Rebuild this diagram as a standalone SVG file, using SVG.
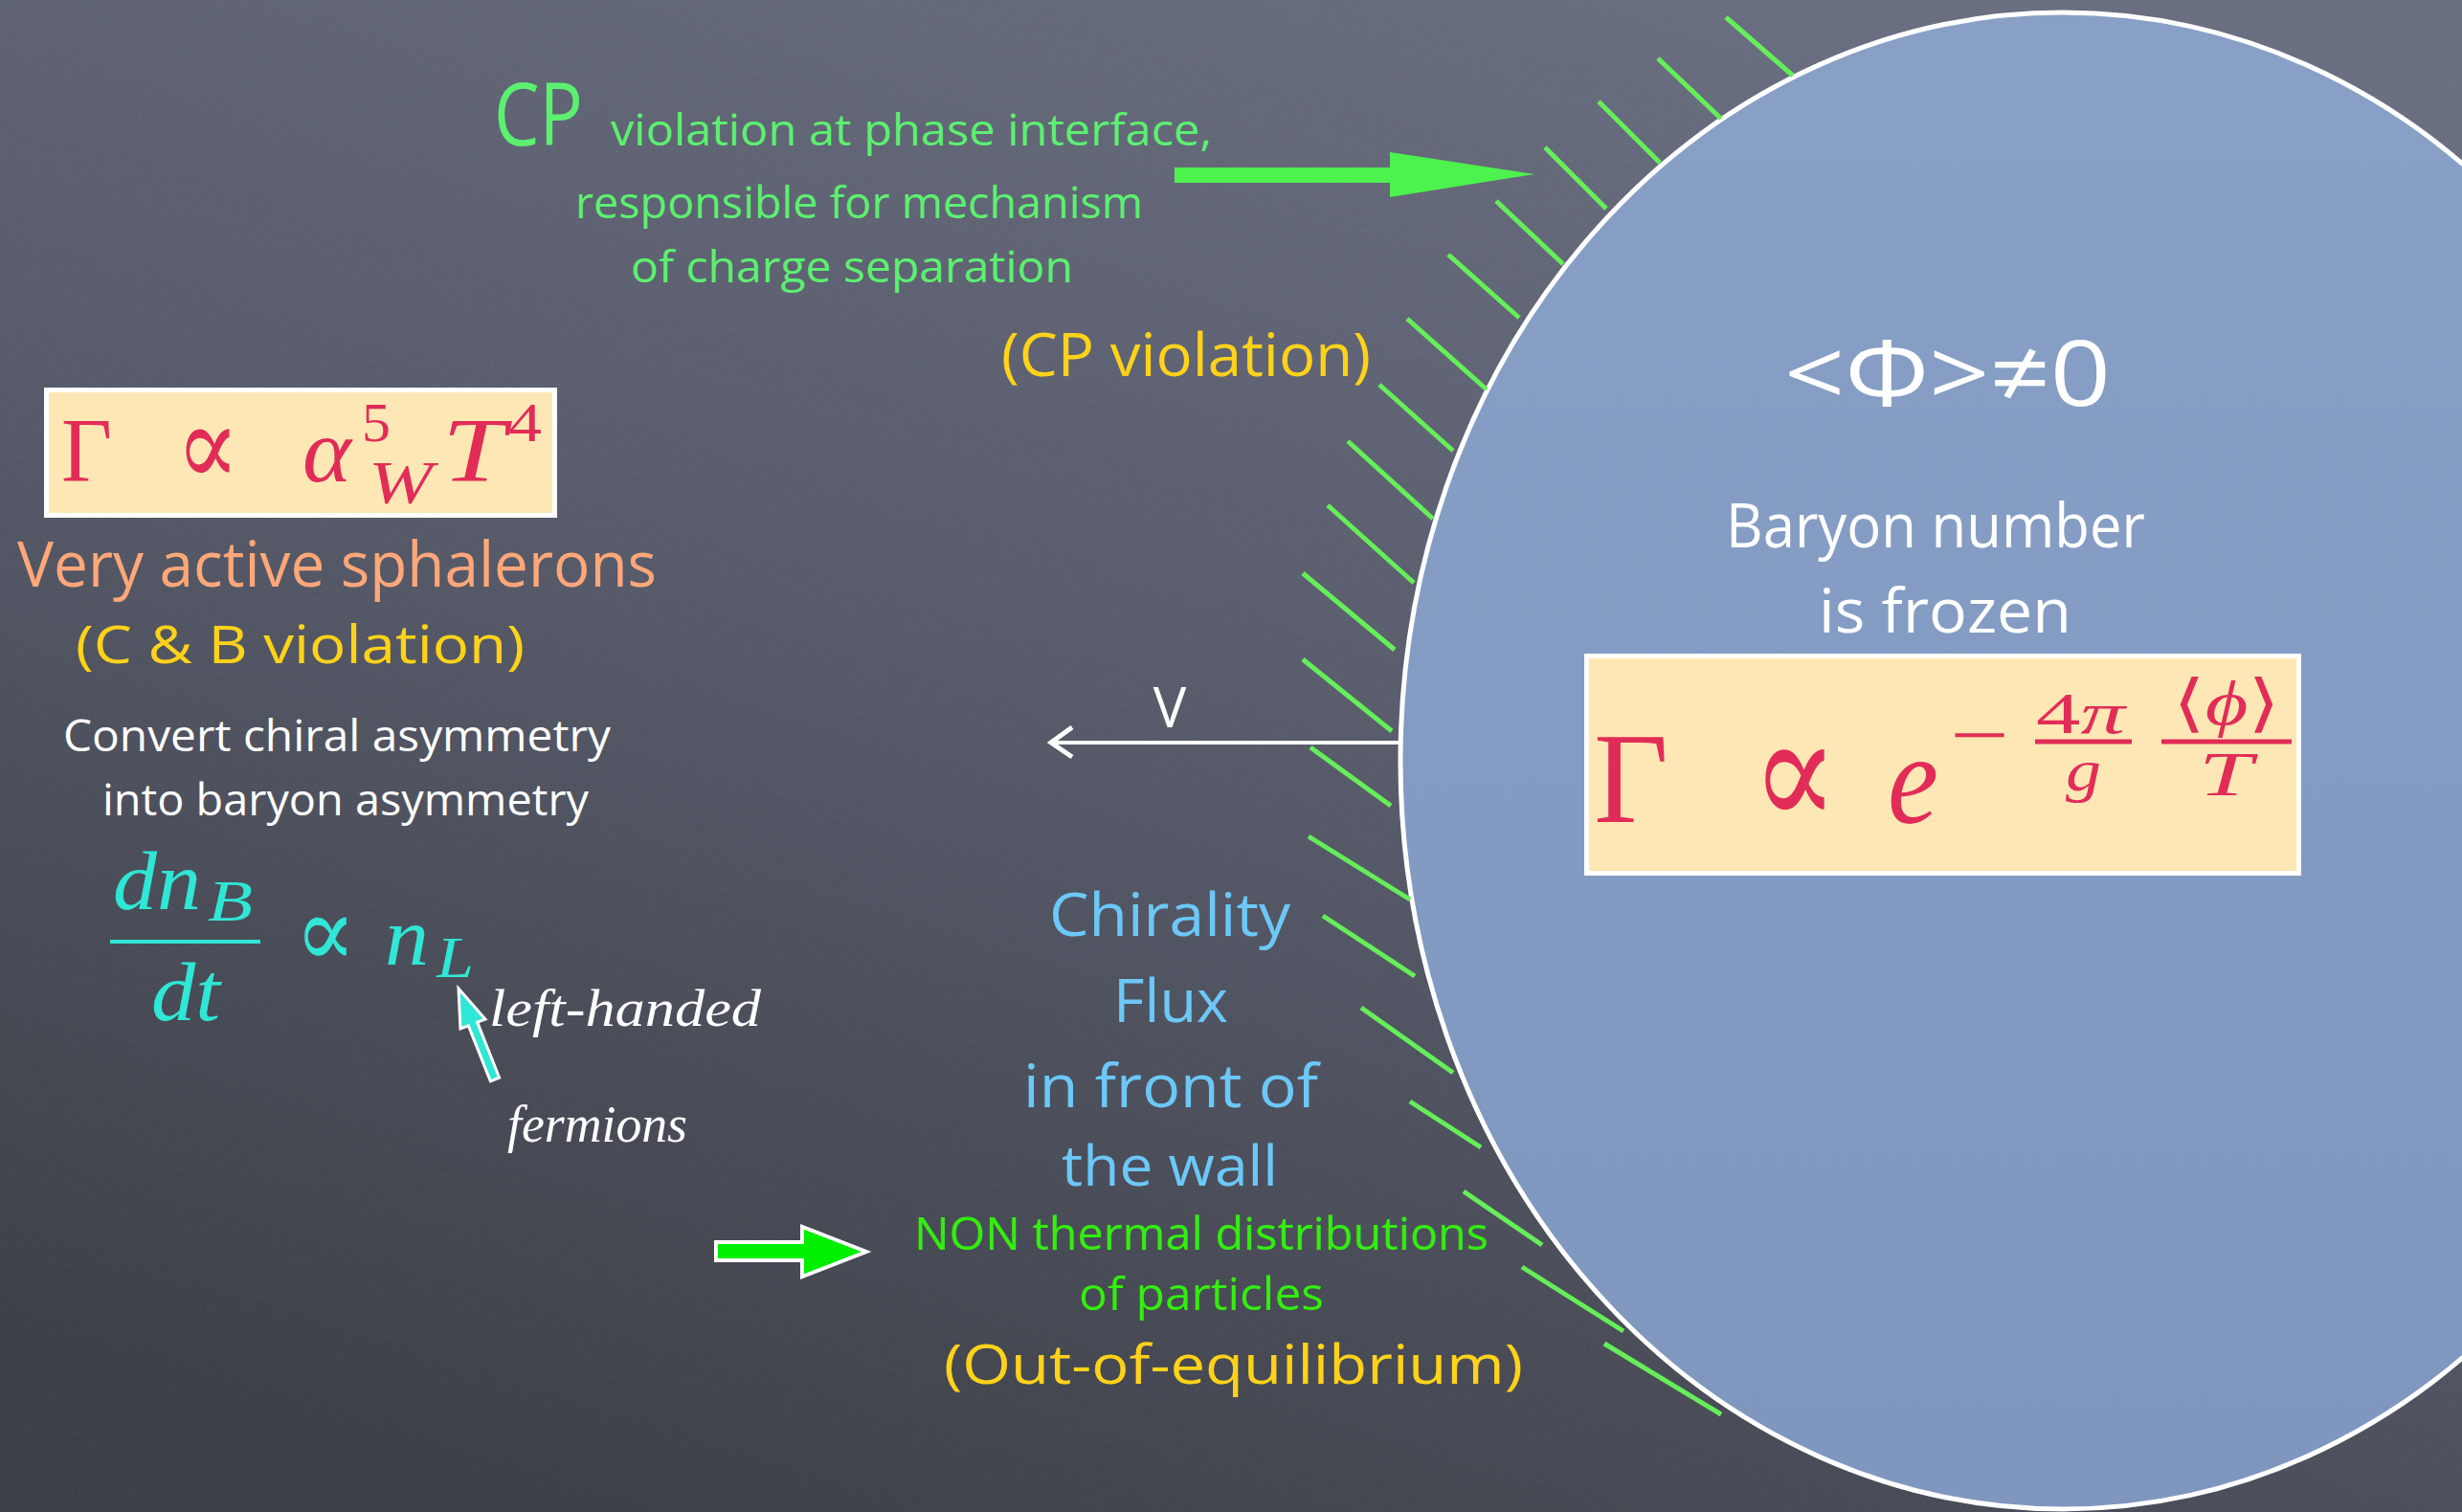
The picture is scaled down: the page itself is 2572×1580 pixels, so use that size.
<svg xmlns="http://www.w3.org/2000/svg" width="2572" height="1580" viewBox="0 0 2572 1580">
<defs>
<linearGradient id="board" x1="0.75" y1="0" x2="0.25" y2="1">
<stop offset="0" stop-color="#62677a"/>
<stop offset="0.45" stop-color="#515565"/>
<stop offset="1" stop-color="#34373f"/>
</linearGradient>
<linearGradient id="bubbleFill" x1="0" y1="0" x2="0" y2="1">
<stop offset="0" stop-color="#88a0c6"/>
<stop offset="1" stop-color="#7f97bf"/>
</linearGradient>
<filter id="chalk" x="0" y="0" width="100%" height="100%">
<feTurbulence type="fractalNoise" baseFrequency="0.9" numOctaves="2" seed="3" result="n"/>
<feColorMatrix in="n" type="matrix" values="0 0 0 0 1  0 0 0 0 1  0 0 0 0 1  0 0 0 0.10 0"/>
</filter>
<style>
.comic{font-family:"Open Sans","Liberation Sans",sans-serif;}
.math{font-family:"Liberation Serif","DejaVu Serif",serif;}
.it{font-style:italic;}
.green{fill:#5cf070;}
.yellow{fill:#ffd21a;}
.white{fill:#ffffff;}
.blue{fill:#6cc8f8;}
.red{fill:#e22c58;}
.cyan{fill:#30e6d6;}
.hatch line{stroke:#66ee5a;stroke-width:5;}
.box{fill:#fde7b4;stroke:#ffffff;stroke-width:5;}
</style>
</defs>

<rect x="0" y="0" width="2572" height="1580" fill="url(#board)"/>
<rect x="0" y="0" width="2572" height="1580" filter="url(#chalk)"/>

<g id="bubble">
<ellipse cx="2155" cy="795" rx="692" ry="782" fill="url(#bubbleFill)" stroke="#ffffff" stroke-width="5"/>
<text class="comic white" x="1864" y="424" font-size="95" textLength="341" lengthAdjust="spacingAndGlyphs">&lt;Φ&gt;≠0</text>
<text class="comic white" x="1803" y="572" font-size="64" textLength="438" lengthAdjust="spacingAndGlyphs">Baryon number</text>
<text class="comic white" x="1900" y="661" font-size="64" textLength="264" lengthAdjust="spacingAndGlyphs">is frozen</text>
</g>

<g id="wall-hatch" class="hatch">
<line x1="1803" y1="18" x2="1873" y2="79"/>
<line x1="1732" y1="61" x2="1798" y2="124"/>
<line x1="1670" y1="106" x2="1734" y2="170"/>
<line x1="1614" y1="154" x2="1678" y2="218"/>
<line x1="1563" y1="210" x2="1633" y2="276"/>
<line x1="1513" y1="266" x2="1587" y2="332"/>
<line x1="1470" y1="333" x2="1553" y2="407"/>
<line x1="1441" y1="402" x2="1518" y2="471"/>
<line x1="1408" y1="461" x2="1497" y2="542"/>
<line x1="1387" y1="528" x2="1477" y2="609"/>
<line x1="1361" y1="599" x2="1457" y2="679"/>
<line x1="1361" y1="689" x2="1454" y2="764"/>
<line x1="1369" y1="781" x2="1453" y2="842"/>
<line x1="1367" y1="874" x2="1473" y2="940"/>
<line x1="1382" y1="957" x2="1478" y2="1020"/>
<line x1="1422" y1="1053" x2="1518" y2="1121"/>
<line x1="1473" y1="1151" x2="1547" y2="1199"/>
<line x1="1529" y1="1245" x2="1611" y2="1301"/>
<line x1="1590" y1="1324" x2="1696" y2="1391"/>
<line x1="1676" y1="1404" x2="1798" y2="1478"/>
</g>

<g id="rate-inside">
<rect class="box" x="1657.5" y="685.5" width="744" height="227"/>
<text class="math red" x="1665" y="859" font-size="136" textLength="78" lengthAdjust="spacingAndGlyphs">Γ</text>
<text class="math red" x="1830" y="864" font-size="165" textLength="90" lengthAdjust="spacingAndGlyphs">∝</text>
<text class="math it red" x="1972" y="860" font-size="136" textLength="53" lengthAdjust="spacingAndGlyphs">e</text>
<text class="math red" x="2037" y="795" font-size="80" textLength="62" lengthAdjust="spacingAndGlyphs">−</text>
<text class="math red" x="2127" y="766" font-size="62" textLength="93" lengthAdjust="spacingAndGlyphs">4<tspan class="it">π</tspan></text>
<line x1="2126" y1="775" x2="2227" y2="775" stroke="#e22c58" stroke-width="5"/>
<text class="math it red" x="2158" y="826" font-size="62" textLength="37" lengthAdjust="spacingAndGlyphs">g</text>
<text class="math red" x="2270" y="757" font-size="66" textLength="112" lengthAdjust="spacingAndGlyphs">⟨<tspan class="it">ϕ</tspan>⟩</text>
<line x1="2258" y1="775" x2="2394" y2="775" stroke="#e22c58" stroke-width="5"/>
<text class="math it red" x="2297" y="831" font-size="66" textLength="56" lengthAdjust="spacingAndGlyphs">T</text>
</g>

<g id="cp-note">
<text class="comic green" x="516" y="152" font-size="92" textLength="93" lengthAdjust="spacingAndGlyphs">CP</text>
<text class="comic green" x="638" y="152" font-size="46" textLength="628" lengthAdjust="spacingAndGlyphs">violation at phase interface,</text>
<text class="comic green" x="601" y="228" font-size="46" textLength="593" lengthAdjust="spacingAndGlyphs">responsible for mechanism</text>
<text class="comic green" x="659" y="295" font-size="46" textLength="462" lengthAdjust="spacingAndGlyphs">of charge separation</text>
</g>

<g id="cp-violation">
<text class="comic yellow" x="1046" y="393" font-size="62" textLength="386" lengthAdjust="spacingAndGlyphs">(CP violation)</text>
</g>

<g id="rate-outside">
<rect class="box" x="48.5" y="407.5" width="531" height="131"/>
<text class="math red" x="64" y="503" font-size="95" textLength="53" lengthAdjust="spacingAndGlyphs">Γ</text>
<text class="math red" x="184" y="507" font-size="120" textLength="66" lengthAdjust="spacingAndGlyphs">∝</text>
<text class="math it red" x="316" y="503" font-size="95" textLength="51" lengthAdjust="spacingAndGlyphs">α</text>
<text class="math red" x="378" y="461" font-size="58" textLength="30" lengthAdjust="spacingAndGlyphs">5</text>
<text class="math it red" x="385" y="526" font-size="64" textLength="67" lengthAdjust="spacingAndGlyphs">W</text>
<text class="math it red" x="462" y="503" font-size="95" textLength="66" lengthAdjust="spacingAndGlyphs">T</text>
<text class="math red" x="531" y="461" font-size="58" textLength="35" lengthAdjust="spacingAndGlyphs">4</text>
</g>

<g id="sphalerons">
<text class="comic" fill="#ffa779" x="18" y="613" font-size="65" textLength="668" lengthAdjust="spacingAndGlyphs">Very active sphalerons</text>
<text class="comic yellow" x="79" y="693" font-size="54" textLength="469" lengthAdjust="spacingAndGlyphs">(C &amp; B violation)</text>
<text class="comic white" x="66" y="785" font-size="46" textLength="572" lengthAdjust="spacingAndGlyphs">Convert chiral asymmetry</text>
<text class="comic white" x="107" y="852" font-size="46" textLength="508" lengthAdjust="spacingAndGlyphs">into baryon asymmetry</text>
</g>

<g id="rate-equation">
<text class="math it cyan" x="118" y="950" font-size="86" textLength="92" lengthAdjust="spacingAndGlyphs">dn</text>
<text class="math it cyan" x="217" y="962" font-size="62" textLength="47" lengthAdjust="spacingAndGlyphs">B</text>
<line x1="115" y1="984" x2="272" y2="984" stroke="#30e6d6" stroke-width="4"/>
<text class="math it cyan" x="158" y="1066" font-size="86" textLength="72" lengthAdjust="spacingAndGlyphs">dt</text>
<text class="math cyan" x="308" y="1010" font-size="105" textLength="64" lengthAdjust="spacingAndGlyphs">∝</text>
<text class="math it cyan" x="402" y="1008" font-size="86" textLength="46" lengthAdjust="spacingAndGlyphs">n</text>
<text class="math it cyan" x="456" y="1021" font-size="62" textLength="39" lengthAdjust="spacingAndGlyphs">L</text>
</g>

<g id="left-handed-note">
<text class="math it white" x="511" y="1072" font-size="54" textLength="284" lengthAdjust="spacingAndGlyphs">left-handed</text>
<text class="math it white" x="530" y="1193" font-size="54" textLength="188" lengthAdjust="spacingAndGlyphs">fermions</text>
</g>

<g id="chirality-flux">
<text class="comic blue" x="1096" y="978" font-size="62" textLength="252" lengthAdjust="spacingAndGlyphs">Chirality</text>
<text class="comic blue" x="1163" y="1068" font-size="62" textLength="120" lengthAdjust="spacingAndGlyphs">Flux</text>
<text class="comic blue" x="1069" y="1157" font-size="62" textLength="308" lengthAdjust="spacingAndGlyphs">in front of</text>
<text class="comic blue" x="1109" y="1239" font-size="58" textLength="226" lengthAdjust="spacingAndGlyphs">the wall</text>
</g>

<g id="non-thermal">
<text class="comic" fill="#33ee0e" x="955" y="1306" font-size="47" textLength="600" lengthAdjust="spacingAndGlyphs">NON thermal distributions</text>
<text class="comic" fill="#33ee0e" x="1127" y="1369" font-size="47" textLength="256" lengthAdjust="spacingAndGlyphs">of particles</text>
<text class="comic yellow" x="986" y="1446" font-size="57" textLength="605" lengthAdjust="spacingAndGlyphs">(Out-of-equilibrium)</text>
</g>

<g id="velocity-label">
<text class="comic white" x="1222" y="760" font-size="58" text-anchor="middle">V</text>
</g>

<g id="connectors">
<polygon points="1227,175 1452,175 1452,159 1603,182 1452,206 1452,191 1227,191" fill="#4ef24e"/>
<line x1="1462" y1="776" x2="1100" y2="776" stroke="#ffffff" stroke-width="4"/>
<polyline points="1120,760 1098,776 1120,791" fill="none" stroke="#ffffff" stroke-width="5"/>
<polygon points="479,1033 507,1065 498.6,1068.1 521.6,1126.1 512.4,1129.9 489.4,1071.9 481,1075" fill="#30e6d6" stroke="#ffffff" stroke-width="3" stroke-linejoin="miter"/>
<polygon points="748,1298 838,1298 838,1282 905,1308 838,1334 838,1317 748,1317" fill="#00ee00" stroke="#ffffff" stroke-width="4"/>
</g>
</svg>
